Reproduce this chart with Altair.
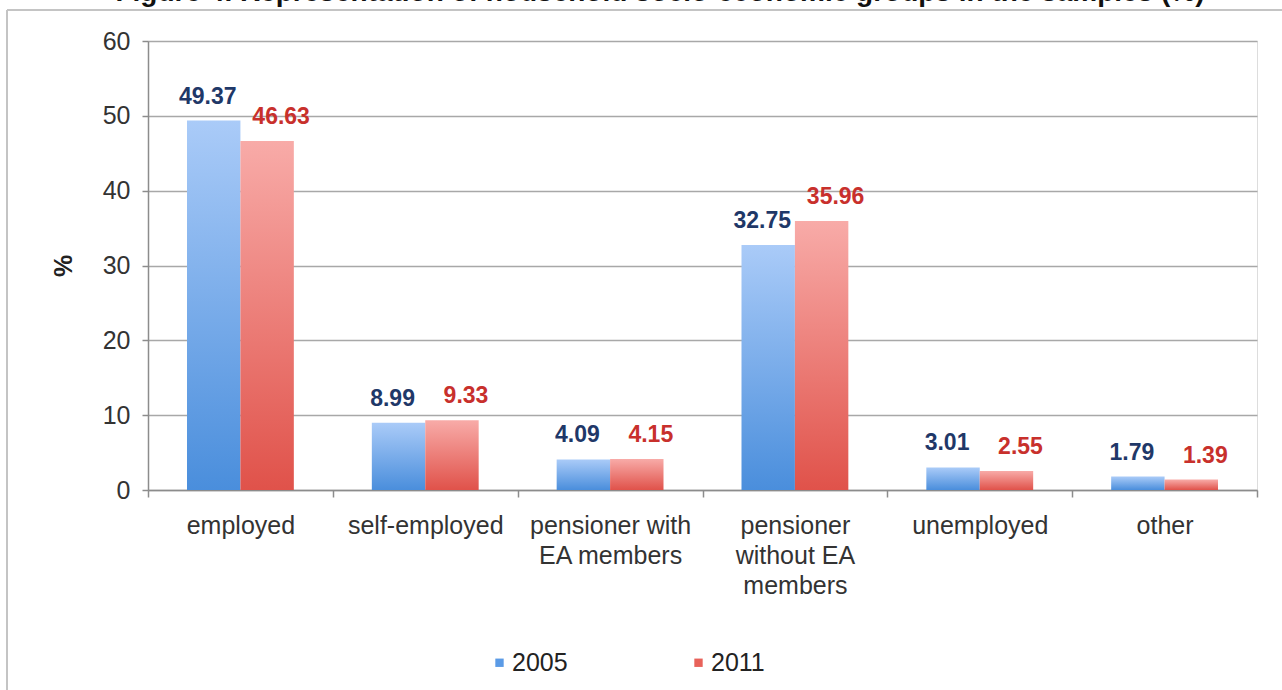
import altair as alt
import pandas as pd

# ---- data ----
categories = ["employed", "self-employed", "pensioner with EA members",
              "pensioner without EA members", "unemployed", "other"]
label_lines = [["employed"], ["self-employed"], ["pensioner with", "EA members"],
               ["pensioner", "without EA", "members"], ["unemployed"], ["other"]]
years = ["2005", "2011"]
values_2005 = [49.37, 8.99, 4.09, 32.75, 3.01, 1.79]
values_2011 = [46.63, 9.33, 4.15, 35.96, 2.55, 1.39]
y_ticks = [0, 10, 20, 30, 40, 50, 60]
title_text = "Figure 4. Representation of household socio-economic groups in the samples (%)"

rows = []
for c, a, b in zip(categories, values_2005, values_2011):
    rows.append({"category": c, "year": "2005", "value": a})
    rows.append({"category": c, "year": "2011", "value": b})
df = pd.DataFrame(rows)

FONT = "Liberation Sans"
W, H = 1109, 449
PAD = {"left": 148, "top": 41, "right": 25, "bottom": 200}

# multi-line x labels
expr = "datum.label"
for c, lines in reversed(list(zip(categories, label_lines))):
    arr = "[" + ",".join("'" + l + "'" for l in lines) + "]"
    expr = f"datum.label == '{c}' ? {arr} : ({expr})"

x_enc = alt.X("category:N", sort=categories,
              scale=alt.Scale(paddingInner=0, paddingOuter=0),
              axis=alt.Axis(title=None, labelAngle=0, tickBand="extent",
                            labelFontSize=25, labelColor="#333333", labelFont=FONT,
                            labelPadding=16, labelLineHeight=30,
                            tickSize=7, tickColor="#8c8c8c", tickWidth=1.5,
                            domainColor="#8c8c8c", domainWidth=1.5,
                            labelExpr=expr))
xo_enc = alt.XOffset("year:N", scale=alt.Scale(domain=years, paddingOuter=0.73, paddingInner=0))
y_enc = alt.Y("value:Q", scale=alt.Scale(domain=[0, 60], nice=False),
              axis=alt.Axis(values=y_ticks, grid=True, gridColor="#a8a8a8", gridWidth=1.5,
                            domainColor="#8c8c8c", domainWidth=1.5,
                            tickColor="#8c8c8c", tickWidth=1.5, tickSize=6,
                            labelFontSize=25, labelColor="#333333", labelFont=FONT,
                            labelPadding=12,
                            title="%", titleFontSize=25, titleFontWeight="bold",
                            titleColor="#222222", titleFont=FONT, titlePadding=26))

def grad(top, bottom):
    return alt.Gradient(gradient="linear",
                        stops=[alt.GradientStop(color=top, offset=0),
                               alt.GradientStop(color=bottom, offset=1)],
                        x1=0, x2=0, y1=0, y2=1)

base = alt.Chart(df)

bars_05 = base.transform_filter("datum.year == '2005'").mark_bar(
    fill=grad("#aacbf8", "#4a8edc")).encode(x=x_enc, xOffset=xo_enc, y=y_enc)
bars_11 = base.transform_filter("datum.year == '2011'").mark_bar(
    fill=grad("#f8aba8", "#e0524a")).encode(x=x_enc, xOffset=xo_enc, y=y_enc)

lab_05 = base.transform_filter("datum.year == '2005'").mark_text(
    font=FONT, fontSize=23, fontWeight="bold", color="#1f3868",
    baseline="middle", dy=-24, dx=-6).encode(
    x=x_enc, xOffset=xo_enc, y=y_enc, text=alt.Text("value:Q", format=".2f"))
lab_11 = base.transform_filter("datum.year == '2011'").mark_text(
    font=FONT, fontSize=23, fontWeight="bold", color="#c8302c",
    baseline="middle", dy=-24, dx=14).encode(
    x=x_enc, xOffset=xo_enc, y=y_enc, text=alt.Text("value:Q", format=".2f"))

legend_layer = base.mark_square(opacity=0, size=1).encode(
    x=x_enc, xOffset=xo_enc, y=y_enc,
    color=alt.Color("year:N", scale=alt.Scale(domain=years, range=["#5b9be6", "#e8625a"]),
                    legend=alt.Legend(title=None, orient="none", direction="horizontal",
                                      legendX=339, legendY=609,
                                      symbolType="square", symbolSize=70, symbolOpacity=1,
                                      symbolStrokeWidth=0,
                                      labelFontSize=25, labelColor="#222222", labelFont=FONT,
                                      labelOffset=0, columnPadding=118)))

frame_left = alt.Chart(pd.DataFrame({"k": [0]})).mark_rule(color="#c4c4c4", strokeWidth=2).encode(
    x=alt.value(-141), y=alt.value(-31), y2=alt.value(H + PAD["bottom"]))
frame_top = alt.Chart(pd.DataFrame({"k": [0]})).mark_rule(color="#c4c4c4", strokeWidth=2).encode(
    x=alt.value(-141), x2=alt.value(W + PAD["right"]), y=alt.value(-31))

title_mark = alt.Chart(pd.DataFrame({"t": [title_text]})).mark_text(
    font=FONT, fontSize=28, fontWeight="bold", color="#111111",
    align="center", baseline="alphabetic").encode(
    text="t:N", x=alt.value(512), y=alt.value(-40))

chart = alt.layer(frame_left, frame_top, title_mark, legend_layer,
                  bars_05, bars_11, lab_05, lab_11).properties(
    width=W, height=H, padding=PAD,
    autosize=alt.AutoSizeParams(type="none"),
    background="white",
).configure_view(stroke=None).configure(font=FONT)

chart.save("out.html", embed_options={"renderer": "svg", "actions": False})
